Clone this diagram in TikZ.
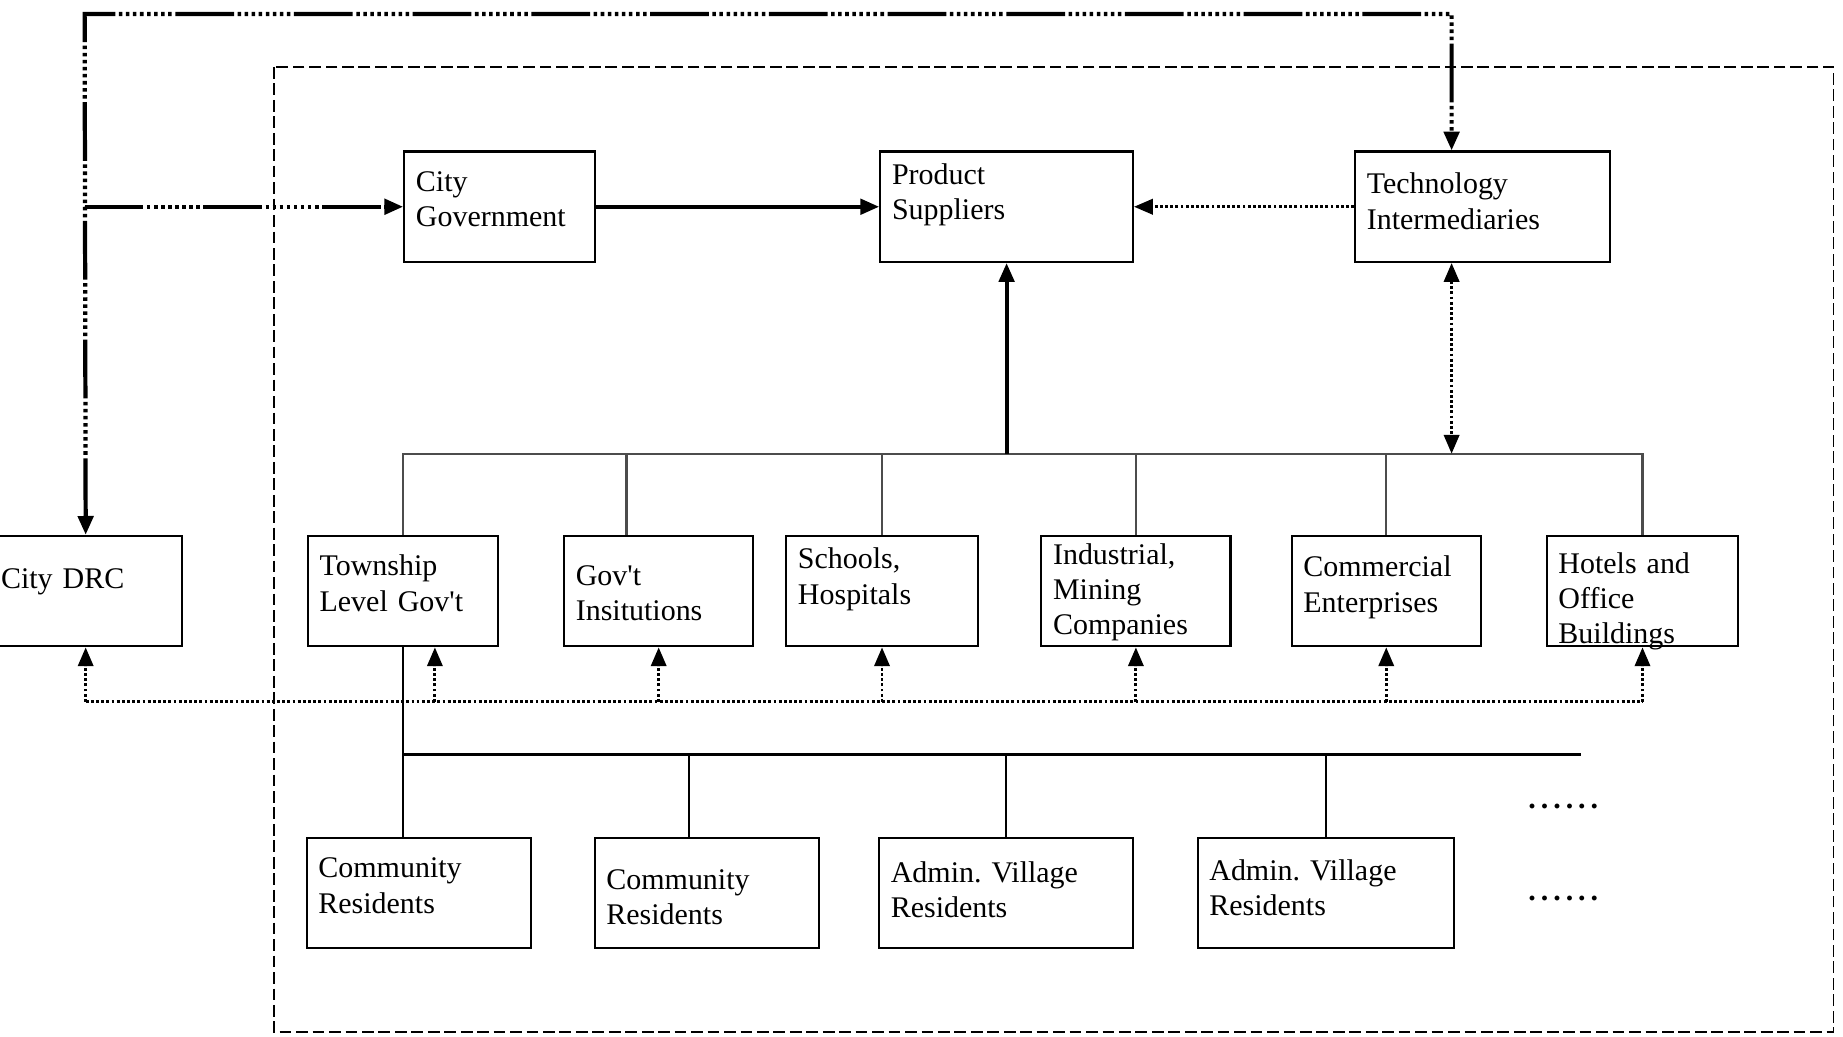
\documentclass[tikz,border=0pt]{standalone}
\usepackage{fontspec}
\setmainfont{Liberation Serif}
\usetikzlibrary{arrows.meta}

\newcommand\boxfont{\fontsize{25.5}{30}\selectfont\frenchspacing}
\tikzstyle{box} = [draw, line width=1.8pt, anchor=north west, align=left, inner xsep=10pt, inner ysep=0pt, text height=34pt, text depth=60pt, font=\boxfont]
\tikzstyle{linkline} = [line width=3.6pt, dash pattern=on 50pt off 3pt on 3pt off 3pt on 3pt off 3pt on 3pt off 3pt on 3pt off 3pt on 3pt off 3pt on 3pt off 3pt on 3pt off 3pt on 3pt off 3pt]
\tikzstyle{mainarrow} = [line width=3.4pt]
\tikzstyle{dotline} = [line width=2.4pt, dash pattern=on 2.4pt off 2pt]
\tikzstyle{busline} = [line width=1.8pt, black!70]
\tikzstyle{treeline} = [line width=2pt]
\tikzstyle{frameline} = [line width=1.3pt, dash pattern=on 10pt off 4pt]

\begin{document}
\begin{tikzpicture}[x=1pt, y=-1pt, >={Triangle[length=16pt,width=13pt]}]
\useasboundingbox (0,0) rectangle (1568,882);
\draw[frameline] (233,57) rectangle (1560,878);

\node[box, text width=142pt] (citygov) at (343,128) {City\\Government};
\node[box, text width=195pt, text height=28pt, text depth=66pt] (prod) at (748,128) {Product\\Suppliers};
\node[box, text width=197pt, text height=36pt, text depth=58pt] (tech) at (1152,128) {Technology\\Intermediaries};

\node[box, text width=144pt, text height=45pt, text depth=49pt] (drc) at (-10,455) {City DRC};
\node[box, text width=142pt] (township) at (261,455) {Township\\Level Gov\textquotesingle t};
\node[box, text width=141pt, text height=42pt, text depth=52pt] (govinst) at (479,455) {Gov\textquotesingle t\\Insitutions};
\node[box, text width=143pt, text height=28pt, text depth=66pt] (schools) at (668,455) {Schools,\\Hospitals};
\node[box, text width=141pt, text height=24pt, text depth=70pt] (industry) at (885,455) {Industrial,\\Mining\\Companies};
\node[box, text width=141pt, text height=35pt, text depth=59pt] (commerce) at (1098,455) {Commercial\\Enterprises};
\node[box, text width=143pt, text height=32pt, text depth=62pt] (hotels) at (1315,455) {Hotels and\\Office\\Buildings};

\node[box, text width=171pt] (comm1) at (260,712) {Community\\Residents};
\node[box, text width=171pt, text height=44pt, text depth=50pt] (comm2) at (505,712) {Community\\Residents};
\node[box, text width=196pt, text height=38pt, text depth=56pt] (admin1) at (747,712) {Admin. Village\\Residents};
\node[box, text width=198pt, text height=36pt, text depth=58pt] (admin2) at (1018,712) {Admin. Village\\Residents};

\node[font=\boxfont\bfseries] (more1) at (1330,686) {.\,.\,.\,.\,.\,.};
\node[font=\boxfont\bfseries] (more2) at (1330,764) {.\,.\,.\,.\,.\,.};

\coordinate (tl) at (72,12);
\coordinate (tr) at (1235,12);
\coordinate (bus) at (0,386);
\coordinate (dbus) at (0,597);
\coordinate (rbus) at (1345,642);
\coordinate (g) at (533,386);
\coordinate (t) at (370,597);
\coordinate (c2) at (586,642);

\draw[linkline, <->] (drc.north) -- (tl) -- (tr) -- (tr |- tech.north);
\draw[linkline, ->] (tl |- citygov.west) -- (citygov.west);
\draw[mainarrow, ->] (citygov) -- (prod);
\draw[dotline, ->] (tech) -- (prod);

\draw[busline] (township.north) |- (hotels.north |- bus) -- (hotels.north);
\draw[busline] (g) -- (g |- govinst.north);
\foreach \n in {schools, industry, commerce}
  \draw[busline] (\n.north |- bus) -- (\n.north);
\draw[mainarrow, ->] (prod.south |- bus) -- (prod.south);
\draw[dotline, <->] (tr |- tech.south) -- (tr |- bus);

\draw[dotline] (drc.south |- dbus) -- (hotels.south |- dbus);
\draw[dotline, ->] (drc.south |- dbus) -- (drc.south);
\draw[dotline, ->] (t) -- (t |- township.south);
\foreach \n in {govinst, schools, industry, commerce, hotels}
  \draw[dotline, ->] (\n.south |- dbus) -- (\n.south);

\draw[treeline] (township.south) -- (township.south |- comm1.north);
\draw[treeline] (township.south |- rbus) -- (rbus);
\draw[treeline] (c2) -- (c2 |- comm2.north);
\foreach \n in {admin1, admin2}
  \draw[treeline] (\n.north |- rbus) -- (\n.north);
\end{tikzpicture}
\end{document}
